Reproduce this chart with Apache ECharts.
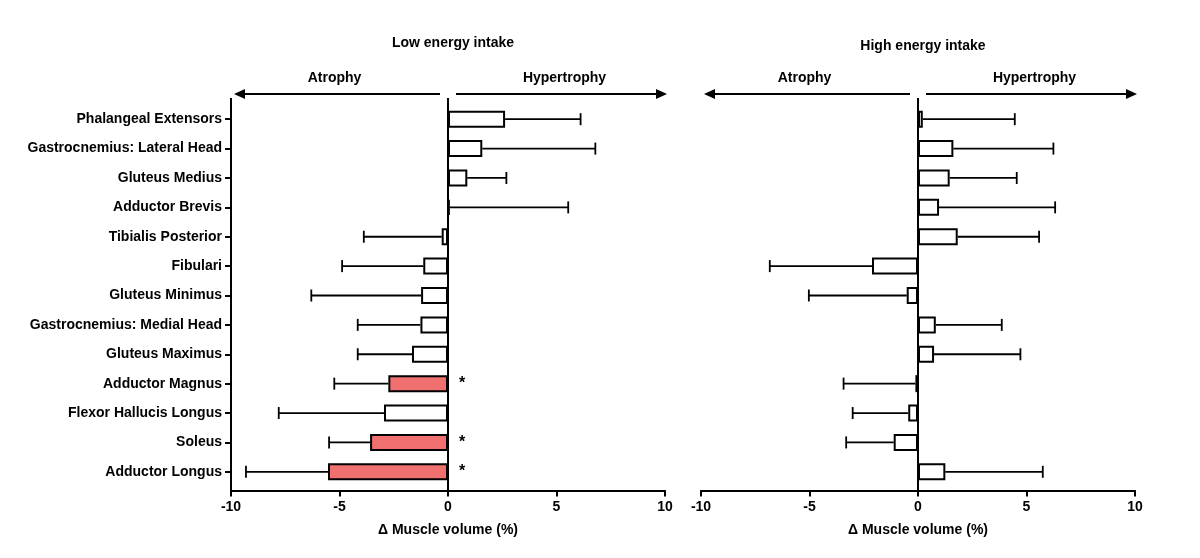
<!DOCTYPE html>
<html>
<head>
<meta charset="utf-8">
<script src="https://cdn.jsdelivr.net/npm/echarts@6/dist/echarts.min.js"></script>
<style>
  html, body { margin: 0; padding: 0; background: #fff; }
  #main { width: 1200px; height: 558px; }
</style>
</head>
<body>
<div id="main"></div>
<script>
'use strict'

// muscles, top to bottom
const muscles = [
    'Phalangeal Extensors',
    'Gastrocnemius: Lateral Head',
    'Gluteus Medius',
    'Adductor Brevis',
    'Tibialis Posterior',
    'Fibulari',
    'Gluteus Minimus',
    'Gastrocnemius: Medial Head',
    'Gluteus Maximus',
    'Adductor Magnus',
    'Flexor Hallucis Longus',
    'Soleus',
    'Adductor Longus'
];

// low energy intake: mean change (%) and SD
const lowMean = [2.63, 1.58, 0.89, 0.08, -0.29, -1.14, -1.24, -1.27, -1.66, -2.75, -2.95, -3.59, -5.53];
const lowSd   = [3.48, 5.21, 1.80, 5.46, 3.59, 3.74, 5.06, 2.89, 2.50, 2.49, 4.85, 1.89, 3.78];
const lowSig  = [0, 0, 0, 0, 0, 0, 0, 0, 0, 1, 0, 1, 1];

// high energy intake
const highMean = [0.22, 1.63, 1.46, 0.97, 1.83, -2.12, -0.52, 0.82, 0.74, -0.12, -0.45, -1.12, 1.26];
const highSd   = [4.24, 4.61, 3.09, 5.35, 3.75, 4.71, 4.51, 3.04, 3.98, 3.31, 2.56, 2.19, 4.49];
const highSig  = [0, 0, 0, 0, 0, 0, 0, 0, 0, 0, 0, 0, 0];

const xTicks = { min: -10, max: 10, interval: 5 };

// vertical lines per panel (left axis + zero line)
const vLinesLow = [-10, 0];
const vLinesHigh = [0];

const FONT = "'Liberation Sans', Arial, sans-serif";
const RED = '#f07070';

let myChart = echarts.init(document.getElementById('main'));

function xAxisFor(gridIndex) {
    return {
        type: 'value',
        gridIndex,
        min: xTicks.min,
        max: xTicks.max,
        interval: xTicks.interval,
        offset: 4,
        splitLine: { show: false },
        axisLine: { show: true, lineStyle: { color: '#000', width: 2 } },
        axisTick: { show: true, length: 6, lineStyle: { color: '#000', width: 2 } },
        axisLabel: { color: '#000', fontWeight: 'bold', fontSize: 14, fontFamily: FONT, margin: 10 },
        name: 'Δ Muscle volume (%)',
        nameLocation: 'middle',
        nameGap: 33,
        nameTextStyle: { color: '#000', fontWeight: 'bold', fontSize: 14, fontFamily: FONT }
    };
}

function yAxisFor(gridIndex, withLabels) {
    return {
        type: 'category',
        gridIndex,
        data: muscles,
        inverse: true,
        axisLine: { show: withLabels, onZero: false, lineStyle: { color: '#000', width: 2 } },
        axisTick: { show: withLabels, alignWithLabel: true, length: 6, lineStyle: { color: '#000', width: 2 } },
        axisLabel: { show: withLabels, color: '#000', fontWeight: 'bold', fontSize: 14, fontFamily: FONT, margin: 9 },
        splitLine: { show: false }
    };
}

function barSeries(idx, means, sig) {
    return {
        type: 'bar',
        xAxisIndex: idx,
        yAxisIndex: idx,
        barWidth: 17,
        data: means.map((v, i) => ({
            value: v,
            itemStyle: { color: sig[i] ? RED : '#fff' }
        })),
        itemStyle: { borderColor: '#000', borderWidth: 2 },
        label: {
            show: true,
            position: 'right',
            distance: 11,
            color: '#000',
            fontWeight: 'bold',
            fontSize: 16,
            fontFamily: FONT,
            formatter: p => sig[p.dataIndex] ? '*' : ''
        },
        z: 3
    };
}

// error bars drawn outward from the bar end
function errorSeries(idx, means, sd) {
    return {
        type: 'custom',
        xAxisIndex: idx,
        yAxisIndex: idx,
        data: means.map((m, i) => [m, m + (m < 0 ? -sd[i] : sd[i]), i]),
        encode: { x: [0, 1], y: 2 },
        renderItem: function (params, api) {
            let p0 = api.coord([api.value(0), api.value(2)]);
            let p1 = api.coord([api.value(1), api.value(2)]);
            let cap = 6;
            let style = { stroke: '#000', lineWidth: 1.8 };
            return {
                type: 'group',
                children: [
                    { type: 'line', shape: { x1: p0[0], y1: p0[1], x2: p1[0], y2: p1[1] }, style },
                    { type: 'line', shape: { x1: p1[0], y1: p1[1] - cap, x2: p1[0], y2: p1[1] + cap }, style }
                ]
            };
        },
        z: 2
    };
}

// full-height vertical lines, a little taller than the plot area like the original
function vLineSeries(idx, xs) {
    return {
        type: 'custom',
        xAxisIndex: idx,
        yAxisIndex: idx,
        silent: true,
        clip: false,
        data: xs.map(x => [x, 0]),
        encode: { x: 0, y: 1 },
        renderItem: function (params, api) {
            let cs = params.coordSys;
            let px = api.coord([api.value(0), 0])[0];
            return {
                type: 'line',
                shape: { x1: px, y1: cs.y - 6.5, x2: px, y2: cs.y + cs.height + 4 },
                style: { stroke: '#000', lineWidth: 2 }
            };
        },
        z: 4
    };
}

myChart.setOption({
    backgroundColor: '#fff',
    animation: false,
    title: [{
        text: 'Low energy intake',
        left: 448,
        top: 31,
        textAlign: 'center',
        textStyle: { color: '#000', fontWeight: 'bold', fontSize: 14, fontFamily: FONT }
    }, {
        text: 'High energy intake',
        left: 918,
        top: 34,
        textAlign: 'center',
        textStyle: { color: '#000', fontWeight: 'bold', fontSize: 14, fontFamily: FONT }
    }],
    grid: [
        { left: 231, width: 434, top: 104.5, height: 382 },
        { left: 701, width: 434, top: 104.5, height: 382 }
    ],
    xAxis: [xAxisFor(0), xAxisFor(1)],
    yAxis: [yAxisFor(0, true), yAxisFor(1, false)],
    series: [
        barSeries(0, lowMean, lowSig),
        errorSeries(0, lowMean, lowSd),
        vLineSeries(0, vLinesLow),
        barSeries(1, highMean, highSig),
        errorSeries(1, highMean, highSd),
        vLineSeries(1, vLinesHigh)
    ]
});

// Atrophy / Hypertrophy arrows above each panel, placed from the x scale
function arrow(x1, x2, y) {
    let dir = x2 > x1 ? 1 : -1;
    let head = 11;
    return [{
        type: 'line',
        shape: { x1, y1: y, x2: x2 - dir * head, y2: y },
        style: { stroke: '#000', lineWidth: 2 }
    }, {
        type: 'polygon',
        shape: { points: [[x2, y], [x2 - dir * head, y - 5], [x2 - dir * head, y + 5]] },
        style: { fill: '#000' }
    }];
}

let graphics = [];
[0, 1].forEach(idx => {
    let lo = myChart.convertToPixel({ xAxisIndex: idx }, xTicks.min);
    let zero = myChart.convertToPixel({ xAxisIndex: idx }, 0);
    let hi = myChart.convertToPixel({ xAxisIndex: idx }, xTicks.max);
    let y = 94;
    graphics.push(...arrow(zero - 8, lo + 3, y));
    graphics.push(...arrow(zero + 8, hi + 2, y));
    graphics.push({
        type: 'text',
        style: { text: 'Atrophy', x: (lo + zero) / 2 - 5, y: 78, align: 'center', verticalAlign: 'middle',
                 fill: '#000', font: 'bold 14px ' + FONT }
    });
    graphics.push({
        type: 'text',
        style: { text: 'Hypertrophy', x: (zero + hi) / 2 + 8, y: 78, align: 'center', verticalAlign: 'middle',
                 fill: '#000', font: 'bold 14px ' + FONT }
    });
});
myChart.setOption({ graphic: graphics });
</script>
</body>
</html>
